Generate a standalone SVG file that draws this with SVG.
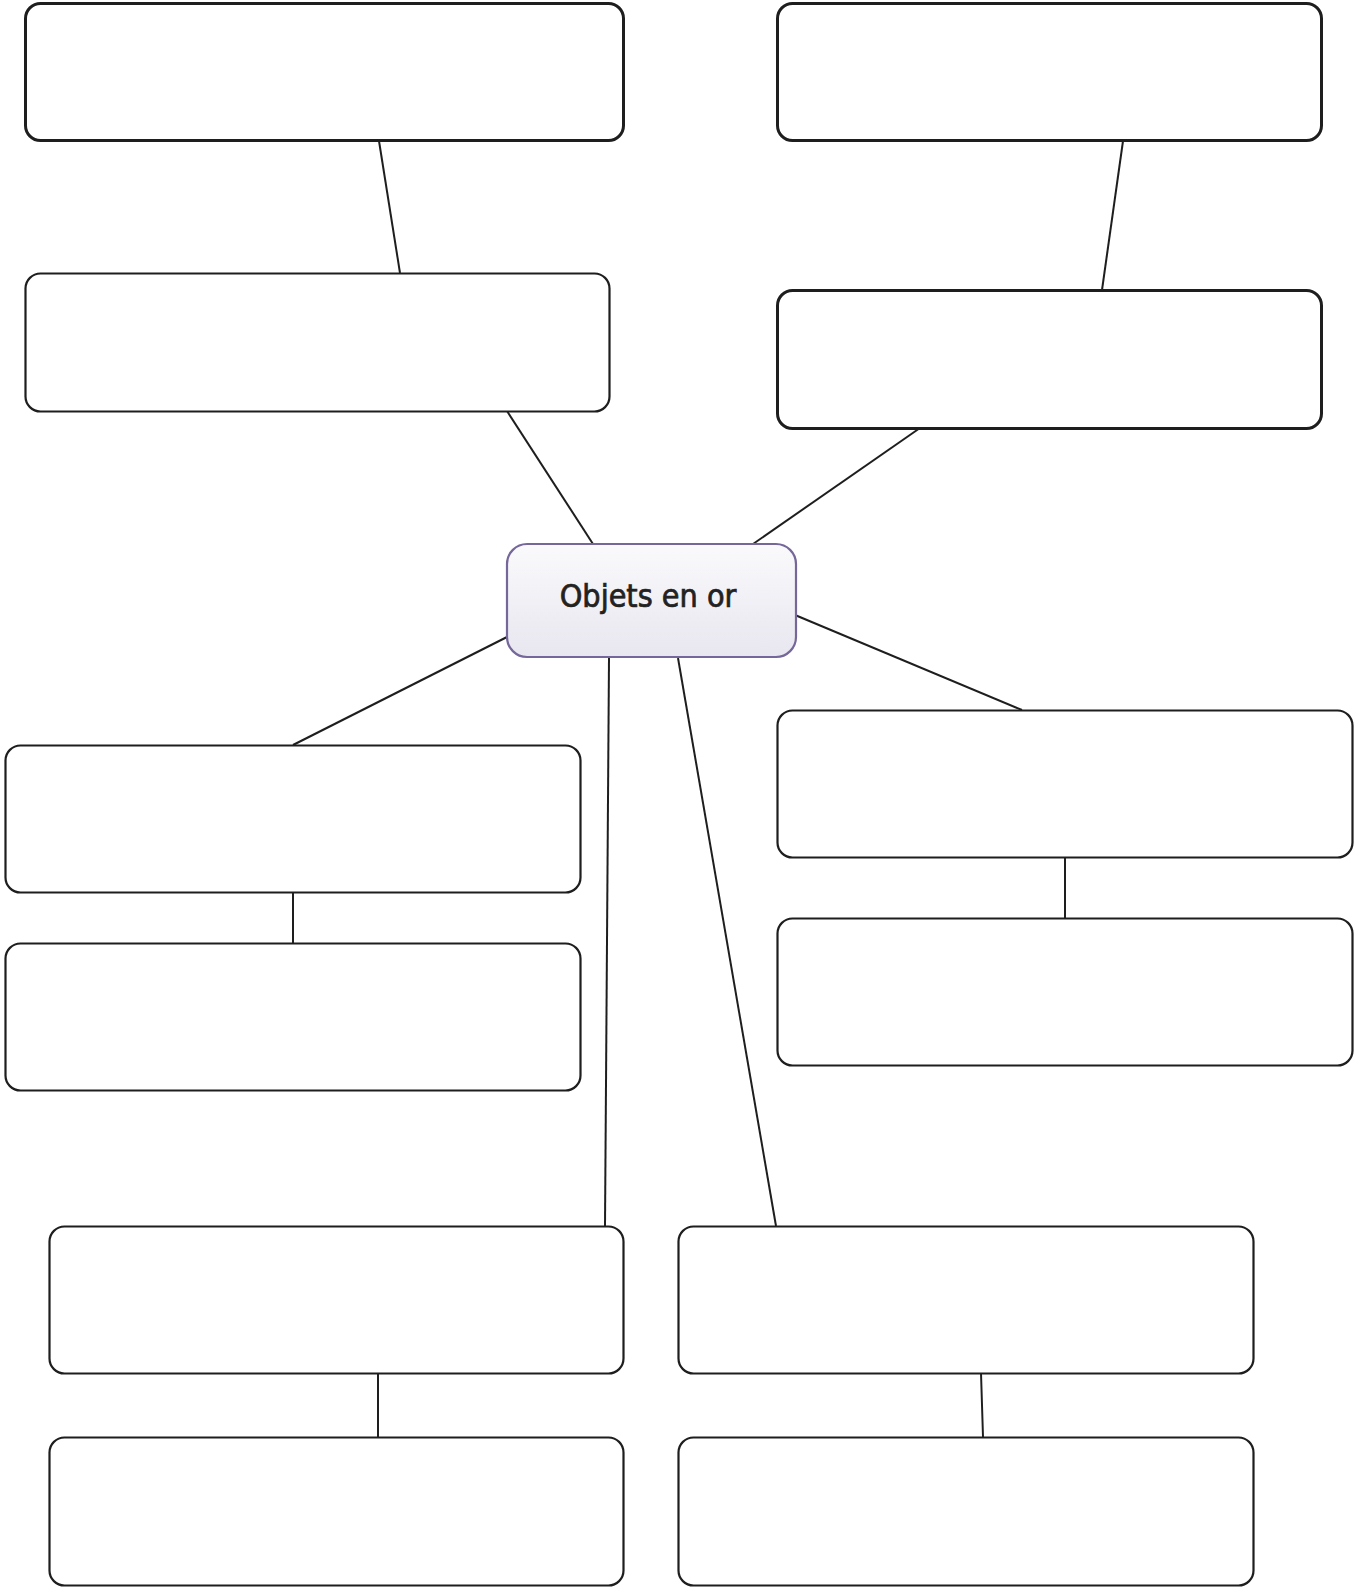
<svg xmlns="http://www.w3.org/2000/svg" width="1354" height="1589" viewBox="0 0 1354 1589">
<defs>
<linearGradient id="cg" x1="0" y1="0" x2="0" y2="1">
<stop offset="0" stop-color="#fafafc"/>
<stop offset="1" stop-color="#e8e6ef"/>
</linearGradient>
</defs>
<style>
.box{fill:#fff;stroke:#1e1e1e;stroke-width:2.2}
.thick{stroke-width:3}
.conn line{stroke:#1e1e1e;stroke-width:2;fill:none}
.center{fill:url(#cg);stroke:#76679a;stroke-width:2.2}
.lbl{font-family:'DejaVu Sans Condensed','DejaVu Sans',sans-serif;font-stretch:condensed;font-size:32px;font-weight:500;fill:#222;stroke:#222;stroke-width:0.7;text-anchor:middle}
</style>
<rect width="1354" height="1589" fill="#fff"/>
<g id="connectors" class="conn">
<line x1="379" y1="141" x2="400" y2="273"/>
<line x1="1123" y1="141" x2="1102" y2="290"/>
<line x1="507" y1="411" x2="593" y2="544"/>
<line x1="920" y1="428" x2="753" y2="544"/>
<line x1="507" y1="637" x2="293" y2="745"/>
<line x1="293" y1="892" x2="293" y2="943"/>
<line x1="795" y1="615" x2="1022" y2="710"/>
<line x1="1065" y1="857" x2="1065" y2="918"/>
<line x1="609" y1="658" x2="605" y2="1226"/>
<line x1="678" y1="658" x2="776" y2="1226"/>
<line x1="378" y1="1373" x2="378" y2="1437"/>
<line x1="981" y1="1373" x2="983" y2="1437"/>
</g>
<g id="node-tl1"><rect class="box thick" x="25.5" y="3.5" width="598" height="137" rx="15"/></g>
<g id="node-tr1"><rect class="box thick" x="777.5" y="3.5" width="544" height="137" rx="15"/></g>
<g id="node-tl2"><rect class="box" x="25.5" y="273.5" width="584" height="138" rx="15"/></g>
<g id="node-tr2"><rect class="box thick" x="777.5" y="290.5" width="544" height="138" rx="15"/></g>
<g id="node-ml1"><rect class="box" x="5.5" y="745.5" width="575" height="147" rx="15"/></g>
<g id="node-ml2"><rect class="box" x="5.5" y="943.5" width="575" height="147" rx="15"/></g>
<g id="node-mr1"><rect class="box" x="777.5" y="710.5" width="575" height="147" rx="15"/></g>
<g id="node-mr2"><rect class="box" x="777.5" y="918.5" width="575" height="147" rx="15"/></g>
<g id="node-bl1"><rect class="box" x="49.5" y="1226.5" width="574" height="147" rx="15"/></g>
<g id="node-bl2"><rect class="box" x="49.5" y="1437.5" width="574" height="148" rx="15"/></g>
<g id="node-br1"><rect class="box" x="678.5" y="1226.5" width="575" height="147" rx="15"/></g>
<g id="node-br2"><rect class="box" x="678.5" y="1437.5" width="575" height="148" rx="15"/></g>
<g id="node-center">
<rect class="center" x="507" y="544" width="289" height="113" rx="20"/>
<text class="lbl" x="648" y="607">Objets en or</text>
</g>
</svg>
